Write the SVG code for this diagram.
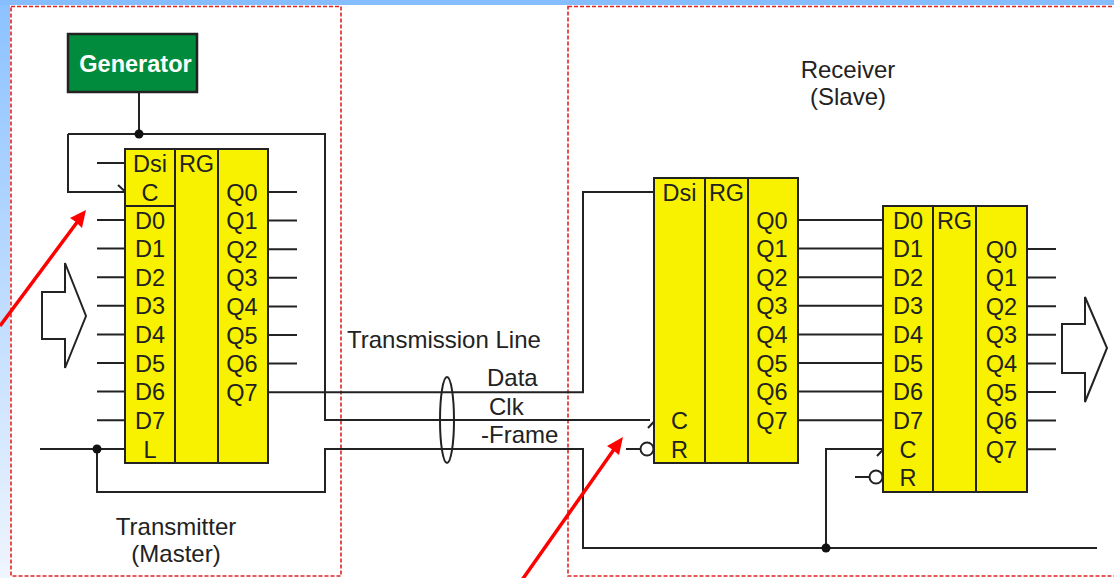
<svg xmlns="http://www.w3.org/2000/svg" width="1114" height="578" viewBox="0 0 1114 578">
<defs>
<linearGradient id="lg" x1="0" y1="0" x2="0" y2="1">
<stop offset="0" stop-color="#8cc2ff"/>
<stop offset="1" stop-color="#eef5fd"/>
</linearGradient>
<style>
.w{fill:none;stroke:#222;stroke-width:2}
.box{fill:#f8f200;stroke:#222;stroke-width:2}
.t{font-family:"Liberation Sans",Arial,sans-serif;font-size:24px;fill:#222}
.rl{font-family:"Liberation Sans",Arial,sans-serif;font-size:23.5px;fill:#222;text-anchor:middle}
.cap{font-family:"Liberation Sans",Arial,sans-serif;font-size:24px;fill:#222;text-anchor:middle}
.dash{fill:none;stroke:#e02424;stroke-width:1.6;stroke-dasharray:4 2}
.dot{fill:#111}
.red{stroke:#ff0000;stroke-width:3.5;fill:none}
.redh{fill:#ff0000}
.bub{fill:#fff;stroke:#222;stroke-width:2}
</style>
</defs>
<rect x="0" y="0" width="1114" height="578" fill="#fff"/>
<rect x="0" y="0" width="1114" height="5" fill="#86bdfc"/>
<rect x="0" y="5" width="10" height="573" fill="url(#lg)"/>
<rect class="dash" x="11" y="6.5" width="330" height="569.5"/>
<rect class="dash" x="568" y="6.5" width="560" height="569.5"/>

<g id="connectors">
<path class="w" d="M139,92 V134 M68,134 H325 V420 H650 M68,134 V192 H125"/>
<path class="w" d="M118,185 L132,198"/>
<path class="w" d="M97,163 H125"/>
<path class="w" d="M97,220 H125 M97,248.6 H125 M97,277.2 H125 M97,305.8 H125 M97,334.4 H125 M97,363 H125 M97,391.6 H125 M97,420.2 H125"/>
<path class="w" d="M40,449 H125 M97,449 V492 H325 V449 H583 V548 H1097"/>
<path class="w" d="M268,192 H297 M268,220.6 H297 M268,249.2 H297 M268,277.8 H297 M268,306.4 H297 M268,335 H297 M268,363.6 H297"/>
<path class="w" d="M268,392.2 H583 V192 H654"/>
<path class="w" d="M648,428 L662,413"/>
<path class="w" d="M626,449 H641"/>
<path class="w" d="M798,220 H883 M798,248.6 H883 M798,277.2 H883 M798,305.8 H883 M798,334.4 H883 M798,363 H883 M798,391.6 H883 M798,420.2 H883"/>
<path class="w" d="M826,548 V449 H883"/>
<path class="w" d="M877,456 L891,441"/>
<path class="w" d="M855,477 H870"/>
<path class="w" d="M1027,249 H1056 M1027,277.6 H1056 M1027,306.2 H1056 M1027,334.8 H1056 M1027,363.4 H1056 M1027,392 H1056 M1027,420.6 H1056 M1027,449.2 H1056"/>
<circle class="dot" cx="139" cy="134" r="4.5"/>
<circle class="dot" cx="97" cy="449" r="4.5"/>
<circle class="dot" cx="826" cy="548" r="4.5"/>
<circle class="bub" cx="647" cy="449" r="6.5"/>
<circle class="bub" cx="876" cy="477" r="6.5"/>
</g>

<g id="generator">
<rect x="68" y="34" width="129" height="58" fill="#008c3c" stroke="#222" stroke-width="2.5"/>
<text x="135.5" y="72" font-family="'Liberation Sans',Arial,sans-serif" font-size="23.5" font-weight="bold" fill="#fff" text-anchor="middle">Generator</text>
</g>

<g id="transmitter-register">
<rect class="box" x="125" y="149" width="143" height="314"/>
<path class="w" d="M175,149 V463 M218,149 V463 M125,206 H175"/>
<text class="rl" x="150" y="171.5">Dsi</text>
<text class="rl" x="150" y="200.5">C</text>
<text class="rl" x="196.5" y="171.5">RG</text>
<text class="rl" x="150" y="228.5">D0</text>
<text class="rl" x="150" y="257">D1</text>
<text class="rl" x="150" y="285.7">D2</text>
<text class="rl" x="150" y="314.3">D3</text>
<text class="rl" x="150" y="342.9">D4</text>
<text class="rl" x="150" y="371.5">D5</text>
<text class="rl" x="150" y="400.1">D6</text>
<text class="rl" x="150" y="428.7">D7</text>
<text class="rl" x="150" y="457.5">L</text>
<text class="rl" x="242" y="200.5">Q0</text>
<text class="rl" x="242" y="229.1">Q1</text>
<text class="rl" x="242" y="257.7">Q2</text>
<text class="rl" x="242" y="286.3">Q3</text>
<text class="rl" x="242" y="314.9">Q4</text>
<text class="rl" x="242" y="343.5">Q5</text>
<text class="rl" x="242" y="372.1">Q6</text>
<text class="rl" x="242" y="400.7">Q7</text>
</g>

<g id="receiver-register-1">
<rect class="box" x="654" y="178" width="144" height="285"/>
<path class="w" d="M705,178 V463 M748,178 V463"/>
<text class="rl" x="679.5" y="200.5">Dsi</text>
<text class="rl" x="726.5" y="200.5">RG</text>
<text class="rl" x="679.5" y="428.5">C</text>
<text class="rl" x="679.5" y="457.5">R</text>
<text class="rl" x="772" y="228.5">Q0</text>
<text class="rl" x="772" y="257">Q1</text>
<text class="rl" x="772" y="285.7">Q2</text>
<text class="rl" x="772" y="314.3">Q3</text>
<text class="rl" x="772" y="342.9">Q4</text>
<text class="rl" x="772" y="371.5">Q5</text>
<text class="rl" x="772" y="400.1">Q6</text>
<text class="rl" x="772" y="428.7">Q7</text>
</g>

<g id="receiver-register-2">
<rect class="box" x="883" y="206" width="144" height="286"/>
<path class="w" d="M933,206 V492 M976,206 V492"/>
<text class="rl" x="908" y="228.5">D0</text>
<text class="rl" x="954.5" y="228.5">RG</text>
<text class="rl" x="908" y="257">D1</text>
<text class="rl" x="908" y="285.7">D2</text>
<text class="rl" x="908" y="314.3">D3</text>
<text class="rl" x="908" y="342.9">D4</text>
<text class="rl" x="908" y="371.5">D5</text>
<text class="rl" x="908" y="400.1">D6</text>
<text class="rl" x="908" y="428.7">D7</text>
<text class="rl" x="908" y="457.5">C</text>
<text class="rl" x="908" y="485.9">R</text>
<text class="rl" x="1001.5" y="257.5">Q0</text>
<text class="rl" x="1001.5" y="286.1">Q1</text>
<text class="rl" x="1001.5" y="314.7">Q2</text>
<text class="rl" x="1001.5" y="343.3">Q3</text>
<text class="rl" x="1001.5" y="371.9">Q4</text>
<text class="rl" x="1001.5" y="400.5">Q5</text>
<text class="rl" x="1001.5" y="429.1">Q6</text>
<text class="rl" x="1001.5" y="457.7">Q7</text>
</g>

<g id="input-arrow">
<polygon class="w" fill="#fff" points="42,292 65,292 65,263 86,316 65,368 65,339 42,339"/>
</g>
<g id="output-arrow">
<polygon class="w" fill="#fff" points="1062,324 1085,324 1085,297 1107,348 1085,402 1085,373 1062,373"/>
</g>
<g id="bundle">
<ellipse class="w" cx="447" cy="420" rx="7" ry="43"/>
</g>

<g id="labels">
<text class="t" x="347" y="348">Transmission Line</text>
<text class="t" x="487" y="386">Data</text>
<text class="t" x="489" y="415">Clk</text>
<text class="t" x="481" y="443">-Frame</text>
<text class="cap" x="176" y="535">Transmitter</text>
<text class="cap" x="176" y="562">(Master)</text>
<text class="cap" x="848" y="78">Receiver</text>
<text class="cap" x="848" y="105">(Slave)</text>
</g>

<g id="pointers">
<line class="red" x1="0" y1="326" x2="78" y2="221"/>
<polygon class="redh" points="86,210 82,228 76,222 70,218"/>
<line class="red" x1="522" y1="580" x2="615" y2="448"/>
<polygon class="redh" points="623,437 619,455 613,450 607,446"/>
</g>
</svg>
